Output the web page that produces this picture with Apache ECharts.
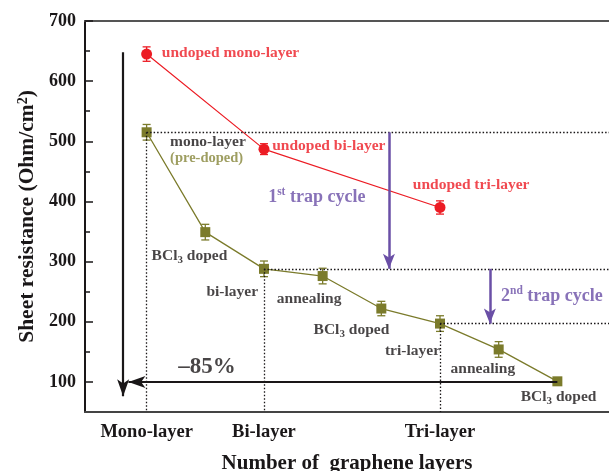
<!DOCTYPE html>
<html>
<head>
<meta charset="utf-8">
<script src="https://cdn.jsdelivr.net/npm/echarts@6/dist/echarts.min.js"></script>
<style>html,body{margin:0;padding:0;background:#fff}#c{width:609px;height:471px}</style>
</head>
<body>
<div id="c"></div>
<script>
// ---- data ----
const categoryNames = ['Mono-layer', 'Bi-layer', 'Tri-layer'];
const categoryPos = [0, 2, 5];
const undopedX = [0, 2, 5];
const undopedY = [645, 487, 390];
const undopedErr = [12, 9, 11];
const dopedX = [0, 1, 2, 3, 4, 5, 6, 7];
const dopedY = [515, 349, 288, 276, 222, 197, 154, 101];
const dopedErr = [13, 13, 13, 13, 12, 13, 13, 4];
const yTicks = [100, 200, 300, 400, 500, 600, 700];
const yMinorTicks = [150, 250, 350, 450, 550, 650];
// annotation texts (x in layer-step units, y in Ohm/cm2)
const annotations = [
  {text: 'undoped mono-layer', x: 0.26, y: 647, align: 'left', style: 'red'},
  {text: 'undoped bi-layer', x: 2.14, y: 492, align: 'left', style: 'red'},
  {text: 'undoped tri-layer', x: 5.53, y: 427, align: 'center', style: 'red'},
  {text: 'mono-layer', x: 0.40, y: 499, align: 'left', style: 'black'},
  {text: '(pre-doped)', x: 0.40, y: 472, align: 'left', style: 'olive'},
  {text: 'BCl{sub|3} doped', x: 0.73, y: 309, align: 'center', style: 'black'},
  {text: 'bi-layer', x: 1.90, y: 249, align: 'right', style: 'black'},
  {text: 'annealing', x: 2.77, y: 238, align: 'center', style: 'black'},
  {text: 'BCl{sub|3} doped', x: 3.49, y: 186, align: 'center', style: 'black'},
  {text: 'tri-layer', x: 5.0, y: 151, align: 'right', style: 'black'},
  {text: 'annealing', x: 5.73, y: 122, align: 'center', style: 'black'},
  {text: 'BCl{sub|3} doped', x: 7.02, y: 75, align: 'center', style: 'black'},
  {text: '1{sup|st} trap cycle', x: 2.90, y: 407, align: 'center', style: 'purple'},
  {text: '2{sup|nd} trap cycle', x: 6.04, y: 243, align: 'left', style: 'purple'},
  {text: '–85%', x: 1.03, y: 125, align: 'center', style: 'big'}
];
const xMin = -1.05, xMax = 7.88, yMin = 50, yMax = 700;

// ---- styles ----
const RED = '#ec1c24', OLIVE = '#7b7b2b', PURPLE = '#6a4fa6', BLACK = '#1a1718';
const FONT = '"Liberation Serif", "Times New Roman", serif';
const textStyles = {
  red: {color: RED, fontSize: 15.5},
  black: {color: BLACK, fontSize: 15.5},
  olive: {color: '#86863a', fontSize: 14.5},
  purple: {color: PURPLE, fontSize: 18},
  big: {color: BLACK, fontSize: 23}
};

function errData(xs, ys, es) { return xs.map((x, i) => [x, ys[i], es[i]]); }
function errSeries(xs, ys, es, color) {
  return {
    type: 'custom', silent: true, z: 3,
    data: errData(xs, ys, es),
    renderItem: function (params, api) {
      const x = api.value(0), y = api.value(1), e = api.value(2);
      const top = api.coord([x, y + e]);
      const bot = api.coord([x, y - e]);
      const w = 4;
      const st = {stroke: color, lineWidth: 1.3, fill: null};
      return {type: 'group', children: [
        {type: 'line', shape: {x1: top[0], y1: top[1], x2: bot[0], y2: bot[1]}, style: st},
        {type: 'line', shape: {x1: top[0] - w, y1: top[1], x2: top[0] + w, y2: top[1]}, style: st},
        {type: 'line', shape: {x1: bot[0] - w, y1: bot[1], x2: bot[0] + w, y2: bot[1]}, style: st}
      ]};
    }
  };
}

const dottedLines = [
  [[dopedX[0], dopedY[0]], [xMax, dopedY[0]]],
  [[dopedX[0], dopedY[0]], [dopedX[0], yMin]],
  [[dopedX[2], dopedY[2]], [xMax, dopedY[2]]],
  [[dopedX[2], dopedY[2]], [dopedX[2], yMin]],
  [[dopedX[5], dopedY[5]], [xMax, dopedY[5]]],
  [[dopedX[5], dopedY[5]], [dopedX[5], yMin]]
];
const blackArrows = [
  [[-0.40, 648], [-0.40, 76]],
  [[dopedX[7], 100], [-0.31, 100]]
];
const purpleArrows = [
  [[4.13, dopedY[0]], [4.13, dopedY[2]]],
  [[5.85, dopedY[2]], [5.85, dopedY[5]]]
];
function mlData(lines) { return lines.map(l => [{coord: l[0]}, {coord: l[1]}]); }

const rich = {
  sub: {fontSize: 11, verticalAlign: 'bottom', lineHeight: 10, fontWeight: 'bold', fontFamily: FONT},
  sup: {fontSize: 11.5, verticalAlign: 'top', lineHeight: 10, fontWeight: 'bold', fontFamily: FONT}
};

const textData = annotations.map(a => {
  const s = textStyles[a.style];
  const r = {};
  for (const k in rich) r[k] = Object.assign({}, rich[k], {color: s.color});
  return {
    value: [a.x, a.y],
    label: {
      show: true, position: 'inside', formatter: a.text, align: a.align, verticalAlign: 'middle',
      color: s.color, fontSize: s.fontSize, fontWeight: 'bold', fontFamily: FONT,
      lineHeight: s.fontSize + 4, rich: r
    }
  };
});

function tickAxis(values, len) {
  return {
    type: 'value', min: yMin, max: yMax, position: 'left',
    axisLine: {show: false, onZero: false},
    axisTick: {show: true, inside: true, length: len, customValues: values, lineStyle: {color: BLACK, width: 1.5}},
    axisLabel: {show: false}, splitLine: {show: false}
  };
}

const chart = echarts.init(document.getElementById('c'), null, {renderer: 'canvas'});
chart.setOption({
  animation: false,
  backgroundColor: '#fff',
  grid: {left: 85, top: 21, right: 0, bottom: 59, containLabel: false, outerBoundsMode: 'none'},
  xAxis: [{
    type: 'value', min: xMin, max: xMax, position: 'bottom',
    axisLine: {show: true, onZero: false, lineStyle: {color: '#444', width: 2}},
    axisTick: {show: false}, splitLine: {show: false},
    axisLabel: {
      customValues: categoryPos, margin: 11,
      formatter: v => categoryNames[categoryPos.indexOf(v)] || '',
      color: BLACK, fontSize: 18.5, fontWeight: 'bold', fontFamily: FONT
    },
    name: 'Number of  graphene layers', nameLocation: 'middle', nameGap: 41,
    nameTextStyle: {color: BLACK, fontSize: 21, fontWeight: 'bold', fontFamily: FONT}
  }, {
    type: 'value', min: xMin, max: xMax, position: 'top',
    axisLine: {show: true, onZero: false, lineStyle: {color: '#555', width: 2}},
    axisTick: {show: false}, axisLabel: {show: false}, splitLine: {show: false}
  }],
  yAxis: [{
    type: 'value', min: yMin, max: yMax, position: 'left',
    axisLine: {show: true, onZero: false, lineStyle: {color: BLACK, width: 2}},
    axisTick: {show: false},
    axisLabel: {customValues: yTicks, margin: 9, color: BLACK, fontSize: 18, fontWeight: 'bold', fontFamily: FONT},
    splitLine: {show: false},
    name: 'Sheet resistance (Ohm/cm{sup|2})', nameLocation: 'middle', nameGap: 46, nameRotate: 90,
    nameTextStyle: {color: BLACK, fontSize: 21.5, fontWeight: 'bold', fontFamily: FONT,
      rich: {sup: {fontSize: 14, verticalAlign: 'top', lineHeight: 12, fontWeight: 'bold', fontFamily: FONT, color: BLACK}}}
  }, tickAxis(yTicks, 8), tickAxis(yMinorTicks, 5)],
  series: [
    {
      type: 'line', name: 'dotted', data: [], silent: true,
      markLine: {silent: true, symbol: ['none', 'none'], label: {show: false},
        lineStyle: {color: BLACK, width: 1.3, type: [1.5, 2]}, data: mlData(dottedLines)}
    },
    {
      type: 'line', name: 'blackArrows', data: [], silent: true,
      markLine: {silent: true, symbol: ['none', 'arrow'], symbolSize: [9, 17], label: {show: false},
        lineStyle: {color: BLACK, width: 2.2, type: 'solid'}, data: mlData(blackArrows)}
    },
    {
      type: 'line', name: 'purpleArrows', data: [], silent: true,
      markLine: {silent: true, symbol: ['none', 'arrow'], symbolSize: [9, 15], label: {show: false},
        lineStyle: {color: PURPLE, width: 2.5, type: 'solid'}, data: mlData(purpleArrows)}
    },
    {
      type: 'line', name: 'undoped', z: 4,
      data: undopedX.map((x, i) => [x, undopedY[i]]),
      symbol: 'circle', symbolSize: 11, showSymbol: true,
      lineStyle: {color: RED, width: 1.2}, itemStyle: {color: RED}
    },
    errSeries(undopedX, undopedY, undopedErr, RED),
    {
      type: 'line', name: 'doped', z: 4,
      data: dopedX.map((x, i) => [x, dopedY[i]]),
      symbol: 'rect', symbolSize: 10, showSymbol: true,
      lineStyle: {color: OLIVE, width: 1.3}, itemStyle: {color: OLIVE}
    },
    errSeries(dopedX, dopedY, dopedErr, OLIVE),
    {
      type: 'scatter', name: 'text', symbolSize: 0, silent: true, z: 6,
      data: textData
    }
  ]
});
</script>
</body>
</html>
